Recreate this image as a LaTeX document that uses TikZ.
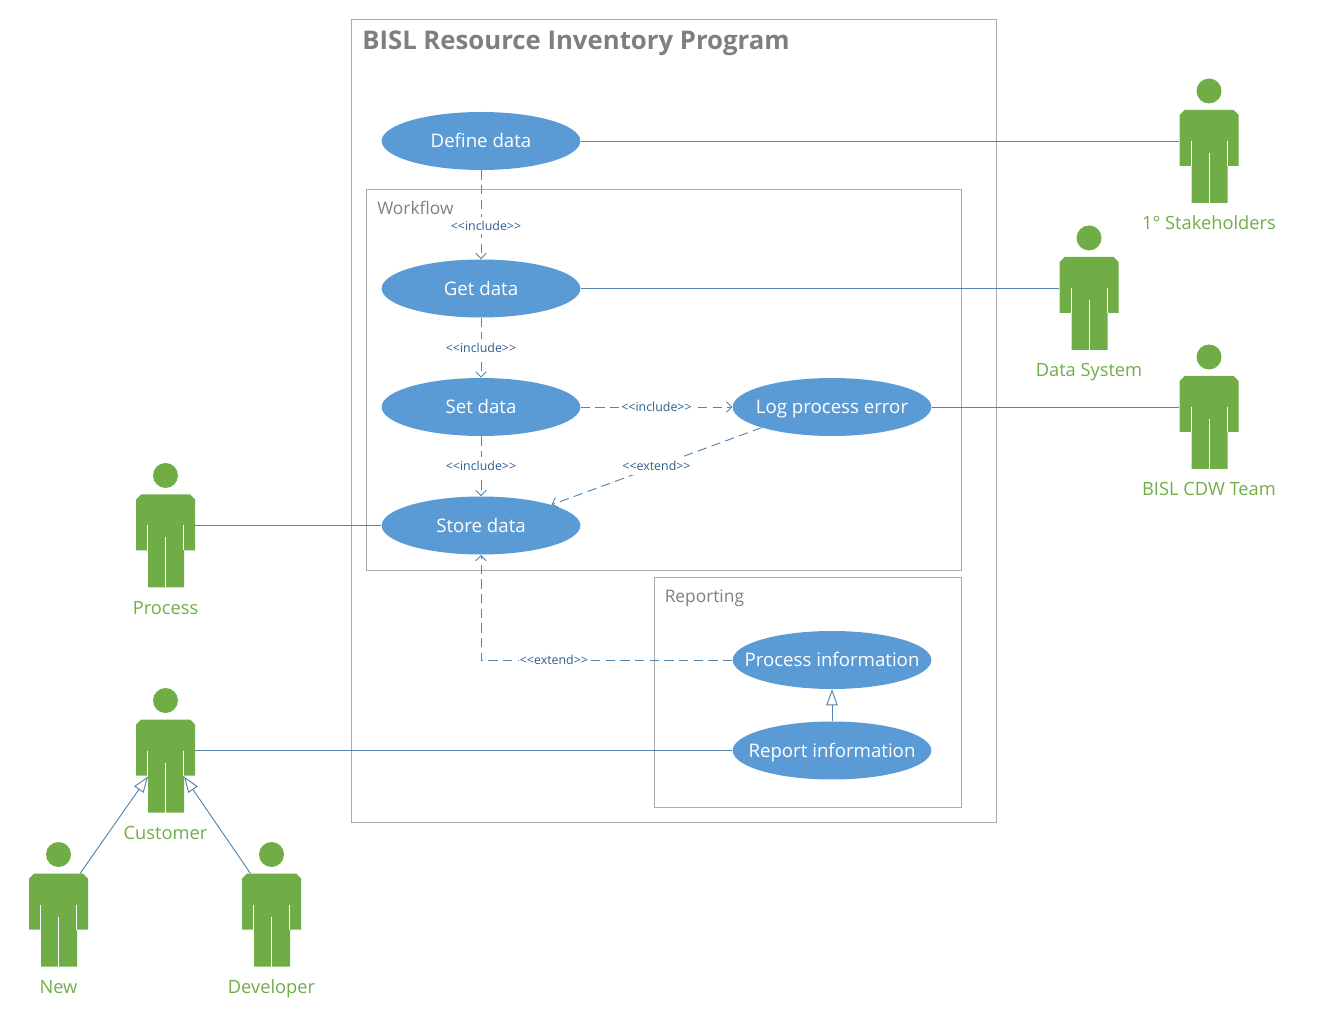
\documentclass[tikz,border=0pt]{standalone}
\usepackage{fontspec}
\setmainfont{Open Sans}
\usetikzlibrary{arrows.meta,calc,shapes.geometric}
\definecolor{usecaseblue}{HTML}{5B9BD5}
\definecolor{linkblue}{HTML}{5285B0}
\definecolor{stereoblue}{HTML}{2E5F8F}
\definecolor{actorgreen}{HTML}{70AD47}
\definecolor{framegray}{HTML}{ABABAB}
\definecolor{titlegray}{HTML}{7F7F7F}
\tikzstyle{usecase}=[ellipse,fill=usecaseblue,text=white,minimum width=149pt,minimum height=43.5pt,inner sep=0pt,text height=10.5pt,text depth=0pt,font=\fontsize{14}{16}\selectfont]
\tikzstyle{frame}=[draw=framegray,line width=0.6pt]
\tikzstyle{framelabel}=[text=titlegray,inner sep=0pt,anchor=west,font=\fontsize{13}{15}\selectfont]
\tikzstyle{edge}=[draw=linkblue,line width=0.7pt]
\tikzstyle{dep}=[edge,dash pattern=on 7pt off 4pt,-{Straight Barb[length=4pt,width=8pt]}]
\tikzstyle{gen}=[draw=linkblue,line width=0.7pt,-{Triangle[open,fill=white,length=12pt,width=8.5pt]}]
\tikzstyle{stereo}=[fill=white,text=stereoblue,inner xsep=1pt,inner ysep=3pt,font=\fontsize{9.3}{11}\selectfont]
\tikzset{
  pics/actor/.style={code={
    \fill[actorgreen] (0,0) circle (12.5);
    \fill[actorgreen] (-24.5,19) -- (24.5,19) -- (29.5,24) -- (29.5,75) -- (18.5,75) -- (18.5,112)
      -- (-17.5,112) -- (-17.5,75) -- (-29.5,75) -- (-29.5,24) -- cycle;
    \draw[white,line width=0.75pt] (-18,50) -- (-18,75) (18,50) -- (18,75) (0,62) -- (0,112);
    \node[inner sep=0pt,minimum width=44.25pt,minimum height=69.75pt] (-body) at (0,65.5) {};
    \coordinate (-shoulderL) at (-21,19);
    \coordinate (-shoulderR) at (21.5,19);
    \coordinate (-hipL) at (-17.5,76);
    \coordinate (-hipR) at (18.5,76);
    \node[text=actorgreen,inner sep=0pt,text height=10pt,text depth=0pt,font=\fontsize{13.7}{16}\selectfont] (-text) at (0,132) {\tikzpictext};
  }}
}
\begin{document}
\begin{tikzpicture}[x=0.75pt,y=-0.75pt]
    \useasboundingbox (0,0) rectangle (1332,1019);
    % First the frames
    \draw[frame] (351.5,19.5) rectangle (996.5,822.5);
    \draw[frame] (366.5,189.5) rectangle (961.5,570.5);
    \draw[frame] (654.5,577.5) rectangle (961.5,807.5);
    \node[framelabel,font=\fontsize{19.3}{23}\bfseries\selectfont] (title) at (362,43) {BISL Resource Inventory Program};
    \node[framelabel] (workflow) at (377,208) {Workflow};
    \node[framelabel] (reporting) at (664.5,598) {Reporting};

    % Then the use cases
    \foreach \pos/\name/\label in {{(481,141)/define/Define data},
    {(481,288.5)/get/Get data}, {(481,407)/set/Set data}, {(481,525.5)/store/Store data},
    {(832,407)/log/Log process error},
    {(832,660)/procinfo/Process information}, {(832,750.5)/report/Report information}}
        \node[usecase] (\name) at \pos {\makebox[0pt]{\label}};

    % And the actors
    \foreach \pos/\name/\label in {{(1209,91)/stake/1° Stakeholders},
    {(1089,238)/datasys/Data System}, {(1209,357)/cdw/BISL CDW Team},
    {(165.5,475.5)/process/Process}, {(165.5,700.5)/customer/Customer},
    {(58.5,854.5)/new/New}, {(271.5,854.5)/developer/Developer}}
        \pic[pic text=\label] (\name) at \pos {actor};

    % Connect actors with use cases
    \foreach \source/\dest in {define/stake, get/datasys, log/cdw}
        \path[edge] (\source.east) -- (\source.east -| \dest-body.west);
    \foreach \source/\dest in {store/process, report/customer}
        \path[edge] (\source.west) -- (\source.west -| \dest-body.east);

    % Dependencies
    \path[dep] (define) -- node[stereo,pos=.62,xshift=3.75pt] {<{}<include>{}>} (get);
    \path[dep] (get) -- node[stereo,pos=.5] {<{}<include>{}>} (set);
    \path[dep] (set) -- node[stereo,pos=.5] {<{}<include>{}>} (store);
    \path[dep] (set) -- node[stereo,pos=.5] {<{}<include>{}>} (log);
    \path[dep] (log.south west) -- node[stereo,pos=.5] {<{}<extend>{}>} (store.north east);
    \path[dep] (procinfo.west) -| node[stereo,pos=.355] {<{}<extend>{}>} (store.south);

    % Generalisations
    \path[gen] (report) -- (procinfo);
    \path[gen] (new-shoulderR) -- (customer-hipL);
    \path[gen] (developer-shoulderL) -- (customer-hipR);
\end{tikzpicture}
\end{document}
